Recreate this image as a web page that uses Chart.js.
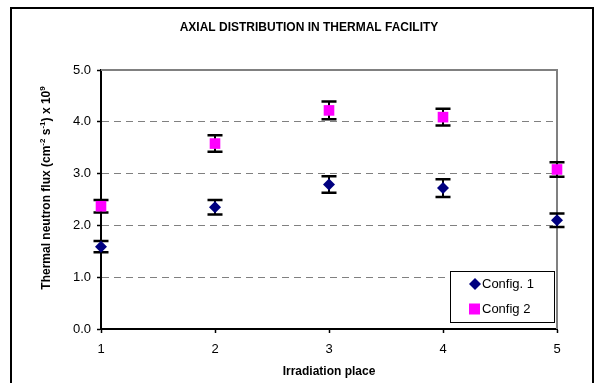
<!DOCTYPE html>
<html>
<head>
<meta charset="utf-8">
<script src="https://cdn.jsdelivr.net/npm/chart.js@4.4.1/dist/chart.umd.min.js"></script>
<style>
  html, body { margin: 0; padding: 0; background: #fff; }
  #wrap { position: relative; width: 596px; height: 383px; }
</style>
</head>
<body>
<div id="wrap"><canvas id="fluxChart" width="596" height="383"></canvas></div>
<script>
// Datos
const places = [1, 2, 3, 4, 5];
const config1 = [1.59, 2.35, 2.79, 2.72, 2.10];
const config1Err = [0.11, 0.14, 0.16, 0.17, 0.13];
const config2 = [2.37, 3.58, 4.22, 4.09, 3.08];
const config2Err = [0.12, 0.16, 0.17, 0.16, 0.14];
const seriesNames = ['Config. 1', 'Config 2'];
const yTickValues = [0, 1, 2, 3, 4, 5];

const FONT = 'Arial, "Liberation Sans", sans-serif';
Chart.defaults.font.family = FONT;
Chart.defaults.color = '#000';

// Marco exterior
const framePlugin = {
    id: 'frame',
    beforeDraw(chart) {
        const ctx = chart.ctx;
        ctx.save();
        ctx.fillStyle = '#fff';
        ctx.fillRect(0, 0, chart.width, chart.height);
        ctx.strokeStyle = '#000';
        ctx.lineWidth = 2;
        ctx.strokeRect(11, 8, 582, 420);
        ctx.restore();
    }
};

// Bordes superior y derecho del área del gráfico + barras de error
const errorBarsPlugin = {
    id: 'errorBars',
    beforeDatasetsDraw(chart) {
        const { ctx, chartArea: a, scales: { x, y } } = chart;
        ctx.save();
        ctx.strokeStyle = '#808080';
        ctx.lineWidth = 2;
        ctx.beginPath();
        ctx.moveTo(a.left, a.top);
        ctx.lineTo(a.right, a.top);
        ctx.lineTo(a.right, a.bottom);
        ctx.stroke();

        ctx.strokeStyle = '#000';
        const errs = [config1Err, config2Err];
        chart.data.datasets.forEach((ds, di) => {
            ds.data.forEach((p, i) => {
                const px = x.getPixelForValue(p.x);
                const top = y.getPixelForValue(p.y + errs[di][i]);
                const bot = y.getPixelForValue(p.y - errs[di][i]);
                ctx.lineWidth = 2;
                ctx.beginPath();
                ctx.moveTo(px, top);
                ctx.lineTo(px, bot);
                ctx.stroke();
                ctx.lineWidth = 2.5;
                ctx.beginPath();
                ctx.moveTo(px - 7.5, top);
                ctx.lineTo(px + 7.5, top);
                ctx.moveTo(px - 7.5, bot);
                ctx.lineTo(px + 7.5, bot);
                ctx.stroke();
            });
        });
        ctx.restore();
    }
};

// Título del eje Y con superíndices y leyenda dentro del gráfico
const textPlugin = {
    id: 'texts',
    afterDraw(chart) {
        const ctx = chart.ctx;
        ctx.save();
        // Eje Y
        const parts = [
            ['Thermal neutron flux (cm', false], ['-2', true], [' s', false],
            ['-1', true], [') x 10', false], ['9', true]
        ];
        const fMain = 'bold 12px ' + FONT;
        const fSup = 'bold 8px ' + FONT;
        let total = 0;
        parts.forEach(([t, sup]) => { ctx.font = sup ? fSup : fMain; total += ctx.measureText(t).width; });
        ctx.translate(47, 188);
        ctx.rotate(-Math.PI / 2);
        ctx.fillStyle = '#000';
        ctx.textBaseline = 'middle';
        let cx = -total / 2;
        parts.forEach(([t, sup]) => {
            ctx.font = sup ? fSup : fMain;
            ctx.fillText(t, cx, sup ? -4.5 : 0);
            cx += ctx.measureText(t).width;
        });
        ctx.restore();

        // Leyenda
        ctx.save();
        ctx.fillStyle = '#fff';
        ctx.fillRect(450, 271, 104, 51);
        ctx.strokeStyle = '#000';
        ctx.lineWidth = 1;
        ctx.strokeRect(450.5, 271.5, 104, 51);
        const ds = chart.data.datasets;
        const rows = [284, 309];
        ctx.font = '13px ' + FONT;
        ctx.textBaseline = 'middle';
        rows.forEach((ry, i) => {
            ctx.fillStyle = ds[i].backgroundColor;
            if (ds[i].pointStyle === 'rectRot') {
                ctx.beginPath();
                ctx.moveTo(475, ry - 6);
                ctx.lineTo(481, ry);
                ctx.lineTo(475, ry + 6);
                ctx.lineTo(469, ry);
                ctx.closePath();
                ctx.fill();
            } else {
                ctx.fillRect(469, ry - 5.5, 11, 11);
            }
            ctx.fillStyle = '#000';
            ctx.fillText(ds[i].label, 482, ry + 0.5);
        });
        ctx.restore();
    }
};

const ctx = document.getElementById('fluxChart');
new Chart(ctx, {
    type: 'scatter',
    data: {
        datasets: [
            {
                label: seriesNames[0],
                data: places.map((p, i) => ({ x: p, y: config1[i] })),
                pointStyle: 'rectRot',
                pointRadius: 6,
                backgroundColor: '#000080',
                borderColor: '#000080',
                borderWidth: 0,
                clip: false
            },
            {
                label: seriesNames[1],
                data: places.map((p, i) => ({ x: p, y: config2[i] })),
                pointStyle: 'rect',
                pointRadius: 7.5,
                backgroundColor: '#FF00FF',
                borderColor: '#FF00FF',
                borderWidth: 0,
                clip: false
            }
        ]
    },
    options: {
        responsive: false,
        animation: false,
        layout: { padding: { left: 61, right: 39, top: 0, bottom: 0 } },
        plugins: {
            legend: { display: false },
            tooltip: { enabled: false },
            title: {
                display: true,
                text: 'AXIAL DISTRIBUTION IN THERMAL FACILITY',
                font: { size: 12, weight: 'bold' },
                color: '#000',
                padding: { top: 20, bottom: 35.6 }
            }
        },
        scales: {
            x: {
                type: 'linear',
                min: 1,
                max: 5,
                afterFit: (s) => { s.height = 54; },
                ticks: {
                    stepSize: 1,
                    padding: 9,
                    font: { size: 13 },
                    color: '#000',
                    callback: (v) => String(v)
                },
                grid: {
                    drawOnChartArea: false,
                    tickLength: 4,
                    tickColor: '#000',
                    tickWidth: 1.5
                },
                border: { color: '#000', width: 2 },
                title: {
                    display: true,
                    text: 'Irradiation place',
                    font: { size: 12, weight: 'bold' },
                    color: '#000',
                    padding: { top: 0, bottom: 4 }
                }
            },
            y: {
                min: yTickValues[0],
                max: yTickValues[yTickValues.length - 1],
                afterFit: (s) => { s.width = 40; },
                afterBuildTicks: (s) => { s.ticks = yTickValues.map(v => ({ value: v })); },
                ticks: {
                    padding: 6,
                    font: { size: 13 },
                    color: '#000',
                    callback: (v) => Number(v).toFixed(1)
                },
                grid: {
                    color: (c) => (c.tick && c.tick.value > 0 && c.tick.value < 5) ? '#808080' : 'rgba(0,0,0,0)',
                    lineWidth: 1,
                    tickLength: 4,
                    tickColor: '#000',
                    tickWidth: 1.5
                },
                border: { color: '#000', width: 2, dash: [7, 5] }
            }
        }
    },
    plugins: [framePlugin, errorBarsPlugin, textPlugin]
});
</script>
</body>
</html>
